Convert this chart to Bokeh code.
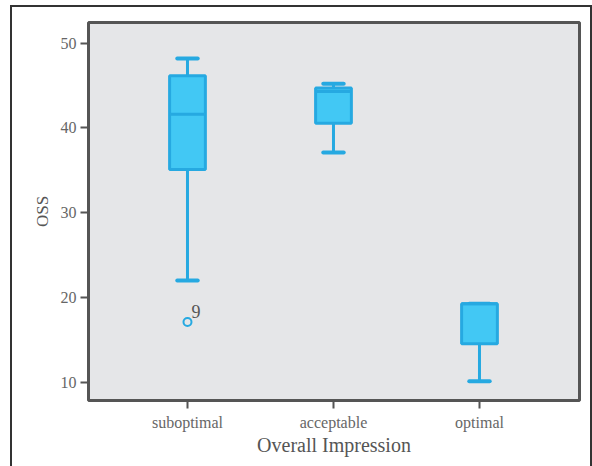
from bokeh.plotting import figure
from bokeh.models import Range1d, FixedTicker, ColumnDataSource
from bokeh.embed import file_html
from bokeh.resources import INLINE
from bokeh.core.properties import value

categories = ["suboptimal", "acceptable", "optimal"]
lower_whisker = [22.0, 37.1, 10.1]
q1 = [35.1, 40.55, 14.55]
median = [41.6, 44.3, 19.25]
q3 = [46.15, 44.7, 19.25]
upper_whisker = [48.2, 45.2, 19.25]
outlier_cat = [0]
outlier_val = [17.1]
outlier_label = ["9"]
y_ticks = [10, 20, 30, 40, 50]

FONT = "Liberation Serif"
FILL = "#42C8F4"
LINE = "#26A9E1"

pos = [i + 1 for i in range(len(categories))]

p = figure(width=578, height=475, output_backend="svg", toolbar_location=None,
           x_range=Range1d(0.322, 3.685), y_range=Range1d(7.84, 52.44),
           min_border_left=76, min_border_right=11, min_border_top=15, min_border_bottom=82)
p.background_fill_color = "#E5E6E8"
p.border_fill_color = "white"
p.outline_line_color = "#555555"
p.outline_line_width = 3
p.xgrid.visible = False
p.ygrid.visible = False
p.styles = {"outline": "2px solid #333333", "margin-left": "12px", "margin-top": "7px"}

src = ColumnDataSource(dict(x=pos, lw=lower_whisker, q1=q1, med=median, q3=q3, uw=upper_whisker))

# whiskers
p.segment(x0="x", y0="lw", x1="x", y1="q1", source=src, line_color=LINE, line_width=3)
p.segment(x0="x", y0="q3", x1="x", y1="uw", source=src, line_color=LINE, line_width=3)
cap = 0.07
src_caps = ColumnDataSource(dict(xl=[x - cap for x in pos], xr=[x + cap for x in pos], lw=lower_whisker, uw=upper_whisker))
p.segment(x0="xl", y0="lw", x1="xr", y1="lw", source=src_caps, line_color=LINE, line_width=4, line_cap="round")
p.segment(x0="xl", y0="uw", x1="xr", y1="uw", source=src_caps, line_color=LINE, line_width=4, line_cap="round")
# boxes
p.vbar(x="x", bottom="q1", top="q3", width=0.245, source=src, fill_color=FILL, line_color=LINE, line_width=3)
bw = 0.1225
src_med = ColumnDataSource(dict(xl=[x - bw for x in pos], xr=[x + bw for x in pos], med=median))
p.segment(x0="xl", y0="med", x1="xr", y1="med", source=src_med, line_color=LINE, line_width=3)

# outlier
ox = [pos[i] for i in outlier_cat]
p.scatter(x=ox, y=outlier_val, size=8, marker="circle", fill_color="#E5E6E8", line_color=LINE, line_width=2)
p.text(x=ox, y=outlier_val, text=outlier_label, x_offset=4, y_offset=-4, text_font=value(FONT),
       text_font_size="18px", text_color="#555555", text_baseline="bottom", text_align="left")

# axes
p.xaxis.ticker = FixedTicker(ticks=pos)
p.xaxis.major_label_overrides = {x: c for x, c in zip(pos, categories)}
p.yaxis.ticker = FixedTicker(ticks=y_ticks)
for ax in (p.xaxis[0], p.yaxis[0]):
    ax.axis_line_color = None
    ax.major_tick_line_color = "#555555"
    ax.major_tick_line_width = 2
    ax.major_tick_out = 8
    ax.major_tick_in = 0
    ax.minor_tick_line_color = None
    ax.major_label_text_font = FONT
    ax.major_label_text_font_size = "16px"
    ax.major_label_text_color = "#666666"
    ax.axis_label_text_font = FONT
    ax.axis_label_text_font_style = "normal"
    ax.axis_label_text_color = "#555555"
p.xaxis.axis_label_text_font_size = "20px"
p.yaxis.axis_label_text_font_size = "17px"
p.xaxis.axis_label = "Overall Impression"
p.yaxis.axis_label = "OSS"
p.xaxis.major_label_standoff = 5
p.yaxis.major_label_standoff = 4
p.xaxis.axis_label_standoff = 0
p.yaxis.axis_label_standoff = 6

open("out.html", "w").write(file_html(p, INLINE))
